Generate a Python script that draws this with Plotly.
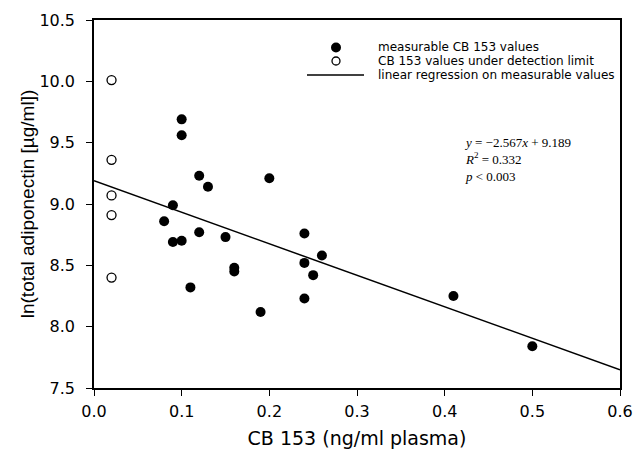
import plotly.graph_objects as go

# measurable CB 153 values
meas_x = [0.08, 0.09, 0.09, 0.10, 0.10, 0.10, 0.11, 0.12, 0.12, 0.13, 0.15, 0.16, 0.16,
          0.19, 0.20, 0.24, 0.24, 0.24, 0.25, 0.26, 0.41, 0.50]
meas_y = [8.86, 8.99, 8.69, 9.69, 9.56, 8.70, 8.32, 9.23, 8.77, 9.14, 8.73, 8.48, 8.45,
          8.12, 9.21, 8.76, 8.52, 8.23, 8.42, 8.58, 8.25, 7.84]

# values under detection limit
nd_x = [0.02, 0.02, 0.02, 0.02, 0.02]
nd_y = [10.01, 9.36, 9.07, 8.91, 8.40]

# regression
slope = -2.567
intercept = 9.189
reg_x = [0.0, 0.6]
reg_y = [intercept + slope * v for v in reg_x]

x_ticks = [0.0, 0.1, 0.2, 0.3, 0.4, 0.5, 0.6]
y_ticks = [7.5, 8.0, 8.5, 9.0, 9.5, 10.0, 10.5]

legend_labels = ["measurable CB 153 values",
                 "CB 153 values under detection limit",
                 "linear regression on measurable values"]

FONT = "DejaVu Sans, Liberation Sans, Arial, sans-serif"
SERIF = "Liberation Serif, Times New Roman, serif"

# plot-area geometry (pixels) used to place the hand-drawn legend
L, R, T, B = 94, 620, 20, 388
def px(xp):
    return (xp - L) / (R - L)
def py(yp):
    return (B - yp) / (B - T)

fig = go.Figure()
fig.add_trace(go.Scatter(
    x=meas_x, y=meas_y, mode="markers", name=legend_labels[0], showlegend=False,
    marker=dict(size=10, color="black", line=dict(width=0)),
))
fig.add_trace(go.Scatter(
    x=nd_x, y=nd_y, mode="markers", name=legend_labels[1], showlegend=False,
    marker=dict(size=9, color="white", line=dict(width=1.3, color="black")),
))
fig.add_trace(go.Scatter(
    x=reg_x, y=reg_y, mode="lines", name=legend_labels[2], showlegend=False,
    line=dict(color="black", width=1.5),
))

# legend (drawn by hand to match the compact spacing of the original)
row_y = [47.5, 61, 75]
fig.add_shape(type="circle", xref="paper", yref="paper",
              x0=px(331), x1=px(341), y0=py(row_y[0] + 5), y1=py(row_y[0] - 5),
              fillcolor="black", line=dict(color="black", width=0))
fig.add_shape(type="circle", xref="paper", yref="paper",
              x0=px(332), x1=px(340), y0=py(row_y[1] + 4), y1=py(row_y[1] - 4),
              fillcolor="white", line=dict(color="black", width=1.3))
fig.add_shape(type="line", xref="paper", yref="paper",
              x0=px(307), x1=px(364), y0=py(row_y[2]), y1=py(row_y[2]),
              line=dict(color="black", width=1.5))
for lab, yy in zip(legend_labels, row_y):
    fig.add_annotation(xref="paper", yref="paper", x=px(376), y=py(yy),
                       xanchor="left", yanchor="middle", showarrow=False,
                       text=lab, font=dict(family=FONT, size=12, color="black"))

fig.add_annotation(
    xref="paper", yref="paper", x=px(462), y=py(133),
    xanchor="left", yanchor="top", align="left", showarrow=False,
    text="<i>y</i> = −2.567<i>x</i> + 9.189<br><i>R</i><sup>2</sup> = 0.332<br><i>p</i> < 0.003",
    font=dict(family=SERIF, size=13, color="black"),
)

fig.update_layout(
    width=634, height=452,
    margin=dict(l=L, r=634 - R, t=T, b=452 - B),
    paper_bgcolor="white", plot_bgcolor="white",
    font=dict(family=FONT, color="black"),
    showlegend=False,
    xaxis=dict(
        range=[0, 0.6], tickvals=x_ticks, ticktext=[f"{v:.1f}" for v in x_ticks],
        showline=True, linecolor="black", linewidth=1.6, mirror=True,
        ticks="outside", ticklen=6, tickwidth=1.2, tickcolor="black",
        showgrid=False, zeroline=False, automargin=False,
        tickfont=dict(family=FONT, size=16), ticklabelstandoff=2,
        title=dict(text="CB 153 (ng/ml plasma)", font=dict(family=FONT, size=19), standoff=12),
    ),
    yaxis=dict(
        range=[7.5, 10.5], tickvals=y_ticks, ticktext=[f"{v:.1f}" for v in y_ticks],
        showline=True, linecolor="black", linewidth=1.6, mirror=True,
        ticks="outside", ticklen=6, tickwidth=1.2, tickcolor="black",
        showgrid=False, zeroline=False, automargin=False,
        tickfont=dict(family=FONT, size=16), ticklabelstandoff=8,
        title=dict(text="ln(total adiponectin [µg/ml])", font=dict(family="Liberation Sans, Arial, sans-serif", size=19), standoff=0),
    ),
)

fig.write_html("out.html", config={"displayModeBar": False},
               post_script="document.body.style.margin='0';document.body.style.overflow='hidden';")
